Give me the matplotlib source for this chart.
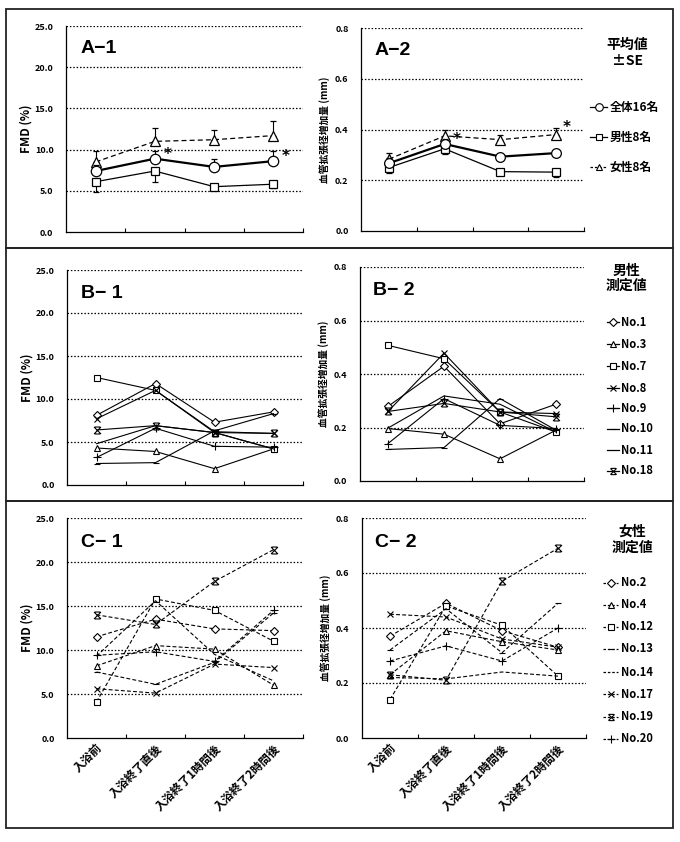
import numpy as np
import matplotlib
matplotlib.use('Agg')
import matplotlib.pyplot as plt
from matplotlib.lines import Line2D
from matplotlib.patches import Rectangle
from matplotlib.path import Path
from matplotlib.ticker import FormatStrFormatter

plt.rcParams['font.family'] = ['Noto Sans CJK JP', 'DejaVu Sans']

# ---- data -----------------------------------------------------------------
stages = ['入浴前', '入浴終了直後', '入浴終了1時間後', '入浴終了2時間後']
xs = [1, 2, 3, 4]

# A: mean values +- SE
a_groups = ['全体16名', '男性8名', '女性8名']
a1_all = [7.4, 8.9, 7.9, 8.6]
a1_all_se = [0.7, 0.95, 1.0, 1.25]
a1_male = [6.1, 7.4, 5.5, 5.8]
a1_male_se = [1.2, 1.3, 0.3, 0.5]
a1_female = [8.5, 11.0, 11.2, 11.7]
a1_female_se = [1.3, 1.6, 1.2, 1.8]

a2_all = [0.267, 0.343, 0.293, 0.307]
a2_all_se = [0.02, 0.02, 0.01, 0.01]
a2_male = [0.250, 0.324, 0.234, 0.232]
a2_male_se = [0.022, 0.02, 0.015, 0.02]
a2_female = [0.283, 0.375, 0.360, 0.380]
a2_female_se = [0.024, 0.025, 0.02, 0.025]

# B: male subjects
b_ids = ['No.1', 'No.3', 'No.7', 'No.8', 'No.9', 'No.10', 'No.11', 'No.18']
b1_fmd = [
    [8.1, 11.8, 7.3, 8.5],
    [4.3, 3.9, 1.9, 4.2],
    [12.5, 11.0, 6.1, 4.2],
    [7.7, 11.0, 6.2, 6.0],
    [3.2, 6.6, 4.5, 4.4],
    [2.5, 2.6, 6.3, 8.3],
    [4.8, 6.9, 6.1, 4.2],
    [6.4, 6.9, 6.1, 6.0],
]
b2_mm = [
    [0.279, 0.429, 0.214, 0.287],
    [0.196, 0.175, 0.083, 0.190],
    [0.507, 0.457, 0.258, 0.183],
    [0.260, 0.478, 0.258, 0.252],
    [0.140, 0.308, 0.208, 0.196],
    [0.118, 0.125, 0.308, 0.190],
    [0.198, 0.318, 0.287, 0.183],
    [0.260, 0.290, 0.258, 0.240],
]

# C: female subjects
c_ids = ['No.2', 'No.4', 'No.12', 'No.13', 'No.14', 'No.17', 'No.19', 'No.20']
c1_fmd = [
    [11.5, 13.5, 12.4, 12.2],
    [8.2, 10.5, 10.1, 6.0],
    [4.1, 15.8, 14.5, 11.0],
    [7.5, 6.1, 8.6, 14.2],
    [9.3, 15.6, 9.5, 6.5],
    [5.6, 5.1, 8.4, 8.0],
    [14.0, 12.9, 17.8, 21.4],
    [9.4, 9.8, 8.7, 14.5],
]
c2_mm = [
    [0.370, 0.490, 0.390, 0.330],
    [0.230, 0.390, 0.350, 0.320],
    [0.140, 0.480, 0.410, 0.225],
    [0.320, 0.470, 0.310, 0.490],
    [0.220, 0.215, 0.240, 0.225],
    [0.450, 0.440, 0.360, 0.330],
    [0.230, 0.210, 0.570, 0.690],
    [0.280, 0.335, 0.280, 0.400],
]

# ---- figure ---------------------------------------------------------------
W, H = 680, 842
fig = plt.figure(figsize=(6.8, 8.42), dpi=100)
fig.set_facecolor('white')


def px(x0, y0, x1, y1):
    # pixel box -> figure fraction rect
    return [x0 / W, 1 - y1 / H, (x1 - x0) / W, (y1 - y0) / H]


def fx(x):
    return x / W


def fy(y):
    return 1 - y / H


# custom marker: x with bars top and bottom
M, L = Path.MOVETO, Path.LINETO
xbar = Path([(-1, -1), (1, 1), (-1, 1), (1, -1), (-0.8, 1), (0.8, 1), (-0.8, -1), (0.8, -1)],
            [M, L, M, L, M, L, M, L])

b_markers = ['D', '^', 's', 'x', '+', '_', None, xbar]
b_sizes = [4.5, 5, 5, 5, 6, 4, 0, 5]
c_markers = ['D', '^', 's', '_', None, 'x', xbar, '+']
c_sizes = [4.5, 5, 5, 4, 0, 5, 5, 6]


def setup(ax, ymax, step, ylabel, yfs, show_x=False):
    ax.set_xlim(0.5, 4.5)
    ax.set_ylim(0, ymax)
    ticks = np.arange(0, ymax + step / 2, step)
    ax.set_yticks(ticks)
    ax.yaxis.set_major_formatter(FormatStrFormatter('%.1f'))
    ax.tick_params(axis='y', length=0, labelsize=6.5, pad=9)
    for lab in ax.get_yticklabels():
        lab.set_fontweight('bold')
    for t in ticks[1:]:
        ax.axhline(t, color='black', ls=(0, (1.2, 1.5)), lw=0.9, zorder=1)
    ax.spines['top'].set_visible(False)
    ax.spines['right'].set_visible(False)
    ax.spines['left'].set_linewidth(0.9)
    ax.spines['bottom'].set_linewidth(0.9)
    ax.set_xticks([1.5, 2.5, 3.5, 4.5], minor=True)
    ax.tick_params(axis='x', which='minor', direction='in', length=3, width=0.8)
    ax.set_xticks(xs)
    ax.tick_params(axis='x', which='major', length=0, pad=3)
    if show_x:
        ax.set_xticklabels(stages, rotation=45, ha='right', rotation_mode='anchor',
                           fontsize=8.3, fontweight='bold')
    else:
        ax.set_xticklabels([])
    ax.set_ylabel(ylabel, fontsize=yfs, fontweight='bold')
    ax.yaxis.set_label_coords(-0.14, 0.5)
    ax.set_facecolor('none')


def panel_tag(ax, text):
    ax.text(0.06, 0.89, text, transform=ax.transAxes, fontsize=14, fontweight='bold',
            family=['Liberation Sans', 'DejaVu Sans'], va='center', ha='left')


def legend_entry(x0, x1, y, label, marker, ls, ms, lw=0.9, tx=None, fs=8.5):
    line = Line2D([fx(x0), fx((x0 + x1) / 2), fx(x1)], [fy(y)] * 3, transform=fig.transFigure,
                  color='black', ls=ls, lw=lw, marker=marker, markevery=[1], ms=ms,
                  mfc='white', mec='black', mew=0.8)
    fig.add_artist(line)
    fig.text(fx(tx if tx else x1 + 3), fy(y), label, fontsize=fs, fontweight='bold',
             va='center', ha='left')


def subjects(ax, rows, markers, sizes, ls):
    for vals, mk, ms in zip(rows, markers, sizes):
        ax.plot(xs, vals, color='black', lw=0.8, ls=ls, marker=mk, ms=ms, mfc='white',
                mec='black', mew=0.8, zorder=3)


ylab_fmd = 'FMD (%)'
ylab_mm = '血管拡張径増加量 (mm)'

# ---- A --------------------------------------------------------------------
ax = fig.add_axes(px(66, 26, 303, 232))
setup(ax, 25, 5, ylab_fmd, 8.5)
ax.errorbar(xs, a1_female, yerr=[[0] * 4, a1_female_se], color='black', ls=(0, (4, 2.5)), lw=0.9,
            marker='^', ms=7, mfc='white', mec='black', mew=0.9, capsize=2.5, elinewidth=0.8, zorder=3)
ax.errorbar(xs, a1_male, yerr=[a1_male_se, [0] * 4], color='black', ls='-', lw=0.9,
            marker='s', ms=6, mfc='white', mec='black', mew=0.9, capsize=2.5, elinewidth=0.8, zorder=3)
ax.errorbar(xs, a1_all, yerr=[[0] * 4, a1_all_se], color='black', ls='-', lw=1.6,
            marker='o', ms=7.5, mfc='white', mec='black', mew=0.9, capsize=2.5, elinewidth=0.8, zorder=4)
for i in (1, 3):
    ax.annotate('*', xy=(xs[i], a1_all[i]), xytext=(6, 0), textcoords='offset points',
                fontsize=11, fontweight='bold', family='DejaVu Sans')
panel_tag(ax, 'A−1')

ax = fig.add_axes(px(361, 28, 584, 231))
setup(ax, 0.8, 0.2, ylab_mm, 7)
ax.errorbar(xs, a2_female, yerr=[[0] * 4, a2_female_se], color='black', ls=(0, (4, 2.5)), lw=0.9,
            marker='^', ms=6.5, mfc='white', mec='black', mew=0.9, capsize=2.5, elinewidth=0.8, zorder=3)
ax.errorbar(xs, a2_male, yerr=[a2_male_se, [0] * 4], color='black', ls='-', lw=0.9,
            marker='s', ms=6, mfc='white', mec='black', mew=0.9, capsize=2.5, elinewidth=0.8, zorder=3)
ax.errorbar(xs, a2_all, yerr=[[0] * 4, a2_all_se], color='black', ls='-', lw=1.6,
            marker='o', ms=7, mfc='white', mec='black', mew=0.9, capsize=2.5, elinewidth=0.8, zorder=4)
ax.annotate('*', xy=(xs[1], a2_all[1]), xytext=(6, 0), textcoords='offset points',
            fontsize=11, fontweight='bold', family='DejaVu Sans')
ax.annotate('*', xy=(xs[3], a2_female[3]), xytext=(5, 2), textcoords='offset points',
            fontsize=11, fontweight='bold', family='DejaVu Sans')
panel_tag(ax, 'A−2')

fig.text(fx(627), fy(45), '平均値', fontsize=10, fontweight='bold', ha='center', va='center')
fig.text(fx(627), fy(61), '±SE', fontsize=10, fontweight='bold', ha='center', va='center')
legend_entry(590, 607, 107, a_groups[0], 'o', '-', 5.5)
legend_entry(590, 607, 137, a_groups[1], 's', '-', 5)
legend_entry(590, 607, 167, a_groups[2], '^', (0, (2, 1.5)), 5)

# ---- B --------------------------------------------------------------------
ax = fig.add_axes(px(67, 270, 303, 485))
setup(ax, 25, 5, ylab_fmd, 8.5)
subjects(ax, b1_fmd, b_markers, b_sizes, '-')
panel_tag(ax, 'B− 1')

ax = fig.add_axes(px(360, 267, 584, 481))
setup(ax, 0.8, 0.2, ylab_mm, 7)
subjects(ax, b2_mm, b_markers, b_sizes, '-')
panel_tag(ax, 'B− 2')

fig.text(fx(626), fy(271), '男性', fontsize=10, fontweight='bold', ha='center', va='center')
fig.text(fx(626), fy(286), '測定値', fontsize=10, fontweight='bold', ha='center', va='center')
b_rows = [322, 344, 366, 388, 408, 429, 450, 471]
for lab, mk, ms, y in zip(b_ids, b_markers, b_sizes, b_rows):
    legend_entry(607, 619, y, lab, mk, '-', ms * 0.9, tx=621, fs=8)

# ---- C --------------------------------------------------------------------
dash = (0, (3.5, 2))
ax = fig.add_axes(px(67, 518, 303, 738))
setup(ax, 25, 5, ylab_fmd, 8.5, show_x=True)
subjects(ax, c1_fmd, c_markers, c_sizes, dash)
panel_tag(ax, 'C− 1')

ax = fig.add_axes(px(362, 518, 586, 738))
setup(ax, 0.8, 0.2, ylab_mm, 7, show_x=True)
subjects(ax, c2_mm, c_markers, c_sizes, dash)
panel_tag(ax, 'C− 2')

fig.text(fx(632), fy(532), '女性', fontsize=10, fontweight='bold', ha='center', va='center')
fig.text(fx(632), fy(548), '測定値', fontsize=10, fontweight='bold', ha='center', va='center')
c_rows = [583, 605, 627, 649, 672, 694, 717, 739]
for lab, mk, ms, y in zip(c_ids, c_markers, c_sizes, c_rows):
    legend_entry(603, 618, y, lab, mk, (0, (2, 1.5)), ms * 0.9, tx=621, fs=8)

# ---- frames ---------------------------------------------------------------
for y0, y1 in [(9, 248), (248, 501), (501, 828)]:
    fig.add_artist(Rectangle((fx(6), fy(y1)), fx(673) - fx(6), fy(y0) - fy(y1),
                             transform=fig.transFigure, fill=False, ec='#222222', lw=1.3))

fig.savefig('out.png', dpi=100)
